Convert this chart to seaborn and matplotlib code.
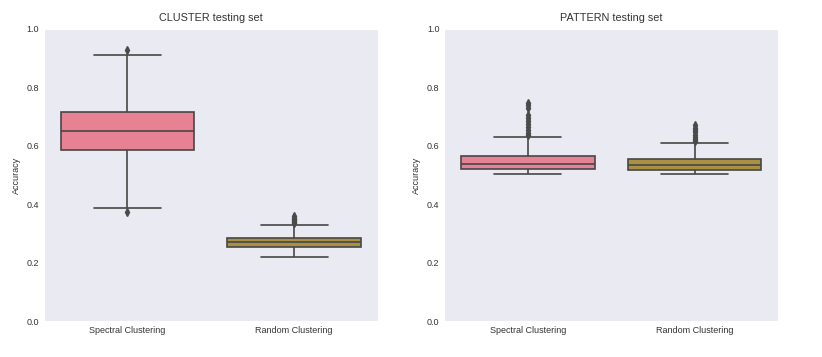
import matplotlib
matplotlib.use("Agg")
import matplotlib.pyplot as plt
import seaborn as sns
import pandas as pd

# ---- data ----
methods = ["Spectral Clustering", "Random Clustering"]
titles = ["CLUSTER testing set", "PATTERN testing set"]
colors = ["#f77189", "#bb9832"]
yticks = [0.0, 0.2, 0.4, 0.6, 0.8, 1.0]

cluster_spectral = [0.373, 0.388, 0.585, 0.620, 0.651, 0.685, 0.717, 0.912, 0.928]

cluster_random = [0.219, 0.229, 0.236, 0.241, 0.245, 0.248, 0.250, 0.252,
                  0.253,
                  0.255, 0.258, 0.260, 0.262, 0.264, 0.266, 0.268,
                  0.269,
                  0.271, 0.273, 0.275, 0.277, 0.279, 0.281, 0.283,
                  0.284,
                  0.329, 0.334, 0.338, 0.342, 0.346, 0.350, 0.354, 0.358]

pattern_spectral = [0.502, 0.504, 0.506, 0.508, 0.509, 0.510, 0.512, 0.513,
                    0.514, 0.515, 0.516, 0.518,
                    0.519,
                    0.521, 0.523, 0.525, 0.527, 0.529, 0.530, 0.531, 0.532,
                    0.533, 0.535, 0.537,
                    0.538,
                    0.540, 0.542, 0.544, 0.546, 0.548, 0.550, 0.552, 0.554,
                    0.556, 0.558, 0.562,
                    0.564,
                    0.629, 0.636, 0.645, 0.655, 0.665, 0.675, 0.685, 0.695,
                    0.705, 0.730, 0.740, 0.748]

pattern_random = [0.502, 0.504, 0.506, 0.508, 0.510, 0.512, 0.514, 0.516, 0.517,
                  0.518,
                  0.520, 0.522, 0.524, 0.526, 0.527, 0.529, 0.531, 0.533,
                  0.534,
                  0.536, 0.538, 0.541, 0.544, 0.547, 0.550, 0.552, 0.554,
                  0.556,
                  0.609, 0.615, 0.622, 0.630, 0.638, 0.646, 0.654, 0.662, 0.670]

panels = [(cluster_spectral, cluster_random), (pattern_spectral, pattern_random)]

# ---- style ----
sns.set_style("dark")
plt.rcParams["font.family"] = ["Liberation Sans", "DejaVu Sans"]

fig, axes = plt.subplots(1, 2, figsize=(8.22, 3.57), dpi=100)
fig.subplots_adjust(left=0.0535, right=0.9465, bottom=0.1008, top=0.9188, wspace=0.2)

for ax, title, (spec, rand) in zip(axes, titles, panels):
    df = pd.DataFrame({
        "method": [methods[0]] * len(spec) + [methods[1]] * len(rand),
        "Accuracy": list(spec) + list(rand),
    })
    sns.boxplot(data=df, x="method", y="Accuracy", hue="method",
                order=methods, hue_order=methods, palette=colors,
                legend=False, ax=ax, width=0.8, linewidth=1.2,
                flierprops=dict(marker="d", markersize=4,
                                markerfacecolor="#4a4a4a",
                                markeredgecolor="#4a4a4a"))
    ax.set_ylim(0, 1.0)
    ax.set_yticks(yticks)
    ax.set_yticklabels([f"{t:.1f}" for t in yticks])
    ax.set_xlabel("")
    ax.set_ylabel("Accuracy", fontsize=6.5, color="#333333")
    ax.set_title(title, fontsize=7.8, color="#333333")
    ax.tick_params(axis="both", labelsize=6.5, colors="#333333", length=0)

fig.savefig("out.png", dpi=100)
